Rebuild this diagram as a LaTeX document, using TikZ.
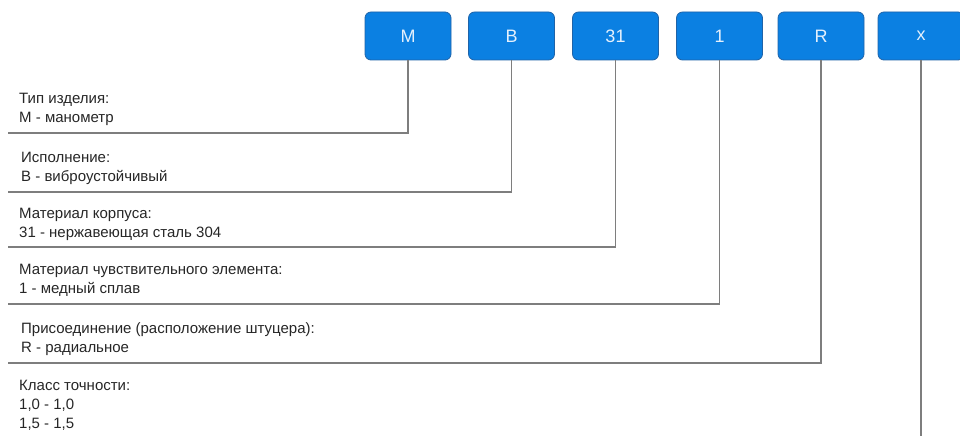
\documentclass[tikz,border=0pt]{standalone}
\usepackage{fontspec}
\setmainfont{Liberation Sans}
\definecolor{codeblue}{HTML}{0B80E2}
\definecolor{codeedge}{HTML}{1F63A8}
\definecolor{codetext}{HTML}{E4F0FC}
\definecolor{leadgray}{HTML}{7E7E7E}
\begin{document}
\begin{tikzpicture}[x=1pt,y=-1pt]
		\tikzstyle{codebox}=[draw=codeedge,line width=0.8pt,fill=codeblue,text=codetext,rounded corners=6pt,minimum width=86pt,minimum height=48pt,inner sep=0pt,font=\fontsize{18}{18}\selectfont]
		\tikzstyle{descr}=[anchor=base west,align=left,inner sep=0pt,text=black!85,font=\fontsize{15}{19}\selectfont]
		\tikzstyle{lead}=[draw=leadgray,line width=1.4pt]
		\useasboundingbox (0,0) rectangle (960,436);
		
		\node[codebox] (bM) at (408,36) {M};
		\node[codebox] (bB) at (511.5,36) {B};
		\node[codebox] (b31) at (615.5,36) {31};
		\node[codebox] (b1) at (719.5,36) {1};
		\node[codebox] (bR) at (821,36) {R};
		\node[codebox] (bx) at (921,36) {x};
		
		% base = baseline of the last line
		\node[descr] (tM) at (19,122) {Тип изделия:\\М - манометр};
		\node[descr] (tB) at (21,181) {Исполнение:\\В - виброустойчивый};
		\node[descr] (t31) at (19,237) {Материал корпуса:\\31 - нержавеющая сталь 304};
		\node[descr] (t1) at (19,293) {Материал чувствительного элемента:\\1 - медный сплав};
		\node[descr] (tR) at (21,352) {Присоединение (расположение штуцера):\\R - радиальное};
		\node[descr] (tx) at (19,428) {Класс точности:\\1,0 - 1,0\\1,5 - 1,5};
		
		\coordinate (eM) at (8,133);
		\coordinate (eB) at (8,192);
		\coordinate (e31) at (8,247);
		\coordinate (e1) at (8,304);
		\coordinate (eR) at (8,363);
		\coordinate (ex) at (bx.south |- 0,436);
		\draw[lead] (bM.south) |- (eM);
		\draw[lead] (bB.south) |- (eB);
		\draw[lead] (b31.south) |- (e31);
		\draw[lead] (b1.south) |- (e1);
		\draw[lead] (bR.south) |- (eR);
		\draw[lead] (bx.south) -- (ex);
	\end{tikzpicture}
\end{document}
